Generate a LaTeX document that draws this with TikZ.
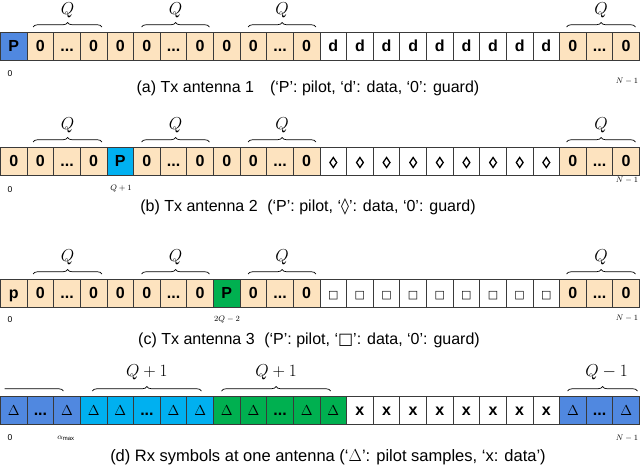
\documentclass[tikz,border=0pt]{standalone}
\usepackage{fontspec}
\setmainfont{Liberation Sans}
\newfontfamily\dejavu{DejaVu Sans}
\usetikzlibrary{decorations.pathreplacing}
\definecolor{peach}{HTML}{FDE3BF}
\definecolor{pblue}{HTML}{5088E0}
\definecolor{pcyan}{HTML}{00B0F0}
\definecolor{pgreen}{HTML}{00B050}
\definecolor{edge}{HTML}{3A3A3A}
\newcommand\mysquare{{\dejavu\fontsize{11}{11}\selectfont □}}
\newcommand\mydelta{{\fontsize{14.5}{14}\selectfont$\Delta$}}
\newcommand\mydots{.{}.{}.}
\tikzset{
  cell/.style={draw=edge, line width=0.8pt, minimum width=26.625pt, minimum height=28pt,
    inner sep=0pt, outer sep=0pt, anchor=north west, text height=11.5pt, text depth=0pt,
    font=\fontsize{16}{16}\selectfont\bfseries},
  brc/.style={decorate, decoration={brace, amplitude=4.5pt}, line width=0.7pt, draw=black},
  lozline/.style={draw=black, line width=1.3pt, line join=miter},
  qlab/.style={font=\fontsize{16}{16}\selectfont, inner sep=0pt},
  idx/.style={font=\fontsize{8.5}{8.5}\selectfont, inner sep=0pt},
  captxt/.style={font=\fontsize{16}{16}\selectfont, inner sep=0pt}
}
\begin{document}
\begin{tikzpicture}[x=1pt,y=1pt]
\useasboundingbox (0,0) rectangle (640,-469);
% ---------- row a ----------
\foreach \c/\t [count=\i from 0] in {pblue/P,peach/0,peach/\mydots,peach/0,peach/0,peach/0,peach/\mydots,peach/0,peach/0,peach/0,peach/\mydots,peach/0,white/d,white/d,white/d,white/d,white/d,white/d,white/d,white/d,white/d,peach/0,peach/\mydots,peach/0}
  {\node[cell, fill=\c] (a\i) at ({0.5+\i*26.625},-32) {\t};}
\draw[brc] ([xshift=6pt,yshift=5pt]a1.north west) -- ([xshift=-5pt,yshift=5pt]a3.north east) node[midway,yshift=17pt,qlab] (qa1) {$Q$};
\draw[brc] ([xshift=8pt,yshift=5pt]a5.north west) -- ([xshift=-4pt,yshift=5pt]a7.north east) node[midway,yshift=17pt,qlab] (qa2) {$Q$};
\draw[brc] ([xshift=8pt,yshift=5pt]a9.north west) -- ([xshift=-4pt,yshift=5pt]a11.north east) node[midway,yshift=17pt,qlab] (qa3) {$Q$};
\draw[brc] ([xshift=7pt,yshift=5pt]a21.north west) -- ([xshift=-4pt,yshift=5pt]a23.north east) node[midway,yshift=17pt,qlab] (qa4) {$Q$};
\node[idx] (ia0) at (10,-74) {0};
\node[idx] (ia1) at (627,-81) {$N-1$};
\node[captxt] (capa) at (308,-88) {(a) Tx antenna 1\hspace{1em}(‘P’: pilot, ‘d’: data, ‘0’: guard)};
% ---------- row b ----------
\foreach \c/\t [count=\i from 0] in {peach/0,peach/0,peach/\mydots,peach/0,pcyan/P,peach/0,peach/\mydots,peach/0,peach/0,peach/0,peach/\mydots,peach/0,white/{},white/{},white/{},white/{},white/{},white/{},white/{},white/{},white/{},peach/0,peach/\mydots,peach/0}
  {\node[cell, fill=\c] (b\i) at ({0.5+\i*26.625},-147) {\t};}
\foreach \k in {12,...,20}
  {\draw[lozline] ([yshift=3.5pt]b\k.center) -- ++(3.4,-5) -- ++(-3.4,-5) -- ++(-3.4,5) -- cycle;}
\draw[brc] ([xshift=6pt,yshift=5pt]b1.north west) -- ([xshift=-5pt,yshift=5pt]b3.north east) node[midway,yshift=17pt,qlab] (qb1) {$Q$};
\draw[brc] ([xshift=8pt,yshift=5pt]b5.north west) -- ([xshift=-4pt,yshift=5pt]b7.north east) node[midway,yshift=17pt,qlab] (qb2) {$Q$};
\draw[brc] ([xshift=8pt,yshift=5pt]b9.north west) -- ([xshift=-4pt,yshift=5pt]b11.north east) node[midway,yshift=17pt,qlab] (qb3) {$Q$};
\draw[brc] ([xshift=7pt,yshift=5pt]b21.north west) -- ([xshift=-4pt,yshift=5pt]b23.north east) node[midway,yshift=17pt,qlab] (qb4) {$Q$};
\node[idx] (ib0) at (10,-190) {0};
\node[idx] (ib1) at (121,-189) {$Q+1$};
\node[idx] (ib2) at (627,-180) {$N-1$};
\node[captxt] (capb) at (308,-207) {(b) Tx antenna 2\hspace{0.6em}(‘P’: pilot, ‘{\dejavu ◊}’: data, ‘0’: guard)};
% ---------- row c ----------
\foreach \c/\t [count=\i from 0] in {peach/p,peach/0,peach/\mydots,peach/0,peach/0,peach/0,peach/\mydots,peach/0,pgreen/P,peach/0,peach/\mydots,peach/0,white/\mysquare,white/\mysquare,white/\mysquare,white/\mysquare,white/\mysquare,white/\mysquare,white/\mysquare,white/\mysquare,white/\mysquare,peach/0,peach/\mydots,peach/0}
  {\node[cell, fill=\c] (c\i) at ({0.5+\i*26.625},-279) {\t};}
\draw[brc] ([xshift=6pt,yshift=5pt]c1.north west) -- ([xshift=-5pt,yshift=5pt]c3.north east) node[midway,yshift=17pt,qlab] (qc1) {$Q$};
\draw[brc] ([xshift=8pt,yshift=5pt]c5.north west) -- ([xshift=-4pt,yshift=5pt]c7.north east) node[midway,yshift=17pt,qlab] (qc2) {$Q$};
\draw[brc] ([xshift=8pt,yshift=5pt]c9.north west) -- ([xshift=-4pt,yshift=5pt]c11.north east) node[midway,yshift=17pt,qlab] (qc3) {$Q$};
\draw[brc] ([xshift=7pt,yshift=5pt]c21.north west) -- ([xshift=-4pt,yshift=5pt]c23.north east) node[midway,yshift=17pt,qlab] (qc4) {$Q$};
\node[idx] (ic0) at (10,-320) {0};
\node[idx] (ic1) at (227,-320) {$2Q-2$};
\node[idx] (ic2) at (627,-318) {$N-1$};
\node[captxt] (capc) at (309,-340) {(c) Tx antenna 3\hspace{0.6em}(‘P’: pilot, ‘{\dejavu □}’: data, ‘0’: guard)};
% ---------- row d ----------
\foreach \c/\t [count=\i from 0] in {pblue/\mydelta,pblue/\mydots,pblue/\mydelta,pcyan/\mydelta,pcyan/\mydelta,pcyan/\mydots,pcyan/\mydelta,pcyan/\mydelta,pgreen/\mydelta,pgreen/\mydelta,pgreen/\mydots,pgreen/\mydelta,pgreen/\mydelta,white/x,white/x,white/x,white/x,white/x,white/x,white/x,white/x,pblue/\mydelta,pblue/\mydots,pblue/\mydelta}
  {\node[cell, fill=\c] (d\i) at ({0.5+\i*26.625},-396) {\t};}
\begin{scope}
  \clip (4.5,-375) rectangle (90,-394);
  \draw[brc] ([xshift=-80pt,yshift=5pt]d0.north west) -- ([xshift=-17pt,yshift=5pt]d2.north east);
\end{scope}
\draw[brc] ([xshift=12pt,yshift=5pt]d3.north west) -- ([xshift=-12pt,yshift=5pt]d7.north east) node[midway,yshift=19pt,qlab] (qd1) {$Q+1$};
\draw[brc] ([xshift=8pt,yshift=5pt]d8.north west) -- ([xshift=-16pt,yshift=5pt]d12.north east) node[midway,yshift=19pt,qlab] (qd2) {$Q+1$};
\draw[brc] ([xshift=8pt,yshift=5pt]d21.north west) -- ([xshift=-2pt,yshift=5pt]d23.north east) node[midway,yshift=19pt,xshift=4pt,qlab] (qd3) {$Q-1$};
\node[idx] (id0) at (10,-438) {0};
\node[idx] (id1) at (66,-438) {$\alpha_{\max}$};
\node[idx] (id2) at (627,-438) {$N-1$};
\node[captxt, font=\fontsize{16.5}{16.5}\selectfont] (capd) at (328,-457) {(d) Rx symbols at one antenna (‘$\Delta$’: pilot samples, ‘x: data’)};
\end{tikzpicture}
\end{document}
